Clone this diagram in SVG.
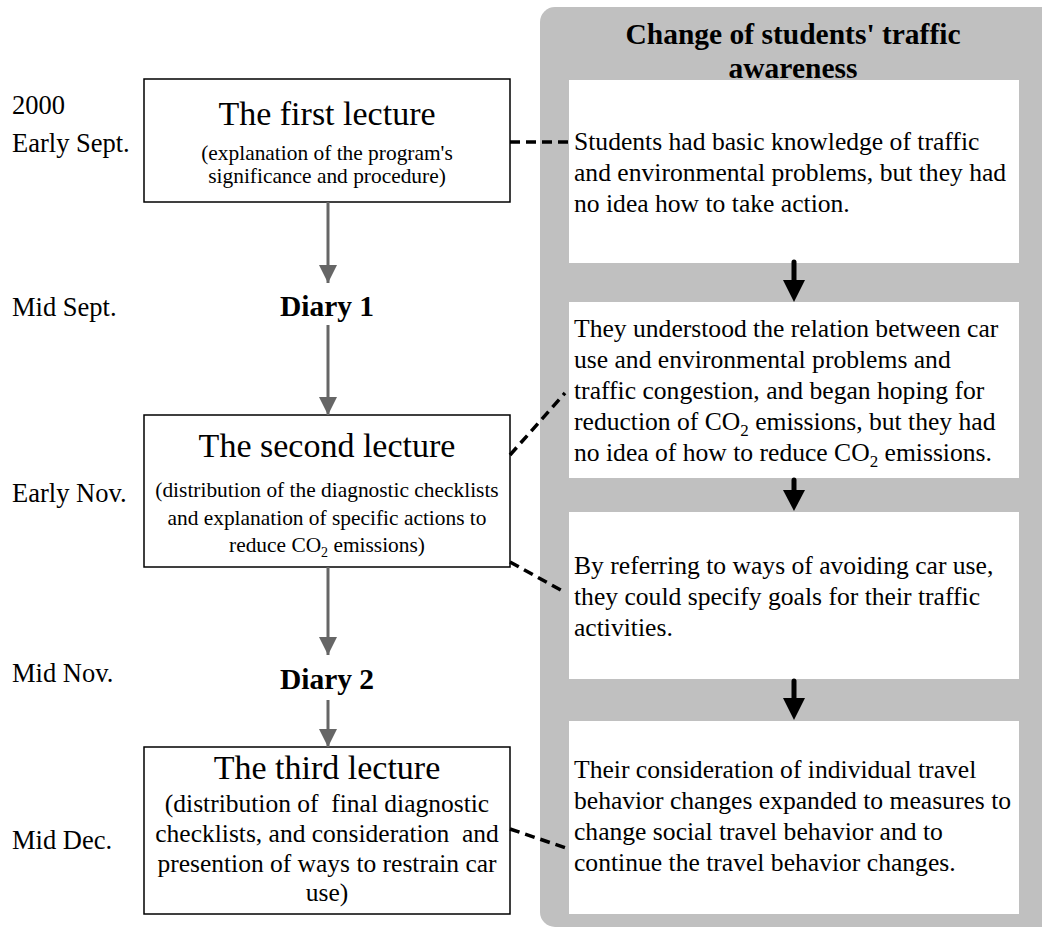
<svg xmlns="http://www.w3.org/2000/svg" width="1042" height="929" viewBox="0 0 1042 929" font-family="'Liberation Serif', 'Times New Roman', serif">
<defs>
<style>
text{font-family:"Liberation Serif","Times New Roman",serif;fill:#000}
.lbl{font-size:26.5px}
.ttl{font-size:34px;text-anchor:middle}
.sub{font-size:21.4px;text-anchor:middle}
.sub3{font-size:25.5px;text-anchor:middle;white-space:pre}
.bold{font-weight:bold;font-size:29.5px;text-anchor:middle}
.rt{font-size:25.6px}
.box{fill:#fff;stroke:#000;stroke-width:1.5}
.wbox{fill:#fff}
.garrow{stroke:#666;stroke-width:3}
.dash{stroke:#000;stroke-width:3.5;stroke-dasharray:10 6;fill:none}
.barrow{stroke:#000;stroke-width:5;stroke-linecap:round}
</style>
<marker id="gh" markerUnits="userSpaceOnUse" markerWidth="18" markerHeight="18" refX="18" refY="9" orient="auto" viewBox="0 0 18 18">
<path d="M0,0 L18,9 L0,18 Z" fill="#666"/>
</marker>
</defs>

<g id="panel">
<rect x="540" y="7" width="515" height="920" rx="15" ry="15" fill="#c0c0c0"/>
<text class="bold" x="793" y="44">Change of students' traffic</text>
<text class="bold" x="793" y="78">awareness</text>
</g>

<g id="labels">
<text class="lbl" x="12" y="114">2000</text>
<text class="lbl" x="12" y="152">Early Sept.</text>
<text class="lbl" x="12" y="316">Mid Sept.</text>
<text class="lbl" x="12" y="502">Early Nov.</text>
<text class="lbl" x="12" y="682">Mid Nov.</text>
<text class="lbl" x="12" y="849">Mid Dec.</text>
</g>

<g id="lecture1">
<rect class="box" x="144" y="79" width="366" height="123"/>
<text class="ttl" x="327" y="125">The first lecture</text>
<text class="sub" x="327" y="160">(explanation of the program's</text>
<text class="sub" x="327" y="183">significance and procedure)</text>
</g>

<g id="diary1">
<text class="bold" x="327" y="316">Diary 1</text>
</g>

<g id="lecture2">
<rect class="box" x="144" y="415" width="366" height="152"/>
<text class="ttl" x="327" y="457">The second lecture</text>
<text class="sub" x="327" y="497">(distribution of the diagnostic checklists</text>
<text class="sub" x="327" y="525">and explanation of specific actions to</text>
<text class="sub" x="327" y="552">reduce CO<tspan font-size="14" dy="5">2</tspan><tspan dy="-5"> emissions)</tspan></text>
</g>

<g id="diary2">
<text class="bold" x="327" y="689">Diary 2</text>
</g>

<g id="lecture3">
<rect class="box" x="144" y="747" width="366" height="167"/>
<text class="ttl" x="327" y="779">The third lecture</text>
<text class="sub3" x="327" y="812">(distribution of  final diagnostic</text>
<text class="sub3" x="327" y="842">checklists, and consideration  and</text>
<text class="sub3" x="327" y="872">presention of ways to restrain car</text>
<text class="sub3" x="327" y="901">use)</text>
</g>

<g id="awareness1">
<rect class="wbox" x="569" y="80" width="450" height="183"/>
<text class="rt" x="574" y="150">Students had basic knowledge of traffic</text>
<text class="rt" x="574" y="181">and environmental problems, but they had</text>
<text class="rt" x="574" y="212">no idea how to take action.</text>
</g>

<g id="awareness2">
<rect class="wbox" x="569" y="302" width="450" height="176"/>
<text class="rt" x="574" y="337">They understood the relation between car</text>
<text class="rt" x="574" y="368">use and environmental problems and</text>
<text class="rt" x="574" y="399">traffic congestion, and began hoping for</text>
<text class="rt" x="574" y="430">reduction of CO<tspan font-size="17" dy="6">2</tspan><tspan dy="-6"> emissions, but they had</tspan></text>
<text class="rt" x="574" y="461">no idea of how to reduce CO<tspan font-size="17" dy="6">2</tspan><tspan dy="-6"> emissions.</tspan></text>
</g>

<g id="awareness3">
<rect class="wbox" x="569" y="512" width="450" height="167"/>
<text class="rt" x="574" y="574">By referring to ways of avoiding car use,</text>
<text class="rt" x="574" y="605">they could specify goals for their traffic</text>
<text class="rt" x="574" y="636">activities.</text>
</g>

<g id="awareness4">
<rect class="wbox" x="569" y="721" width="450" height="193"/>
<text class="rt" x="574" y="778">Their consideration of individual travel</text>
<text class="rt" x="574" y="809">behavior changes expanded to measures to</text>
<text class="rt" x="574" y="840">change social travel behavior and to</text>
<text class="rt" x="574" y="871">continue the travel behavior changes.</text>
</g>

<g id="connectors">
<line class="garrow" x1="328" y1="202" x2="328" y2="283" marker-end="url(#gh)"/>
<line class="garrow" x1="328" y1="325" x2="328" y2="415" marker-end="url(#gh)"/>
<line class="garrow" x1="328" y1="567" x2="328" y2="655" marker-end="url(#gh)"/>
<line class="garrow" x1="328" y1="700" x2="328" y2="747" marker-end="url(#gh)"/>

<line class="barrow" x1="794" y1="262" x2="794" y2="282"/>
<path d="M783,280 L805,280 L794,302 Z"/>
<line class="barrow" x1="794" y1="480" x2="794" y2="492"/>
<path d="M783,490 L805,490 L794,511 Z"/>
<line class="barrow" x1="794" y1="681" x2="794" y2="700"/>
<path d="M783,698 L805,698 L794,720 Z"/>

<line class="dash" x1="510" y1="142" x2="574" y2="142"/>
<line class="dash" x1="510" y1="455" x2="565" y2="393"/>
<line class="dash" x1="510" y1="562" x2="566" y2="593"/>
<line class="dash" x1="510" y1="829" x2="566" y2="848"/>
</g>
</svg>
